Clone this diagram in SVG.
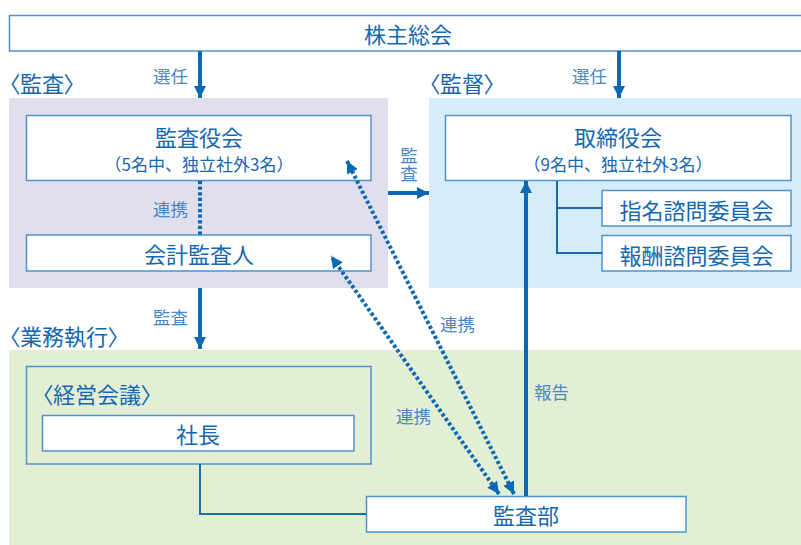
<svg xmlns="http://www.w3.org/2000/svg" width="801" height="545" viewBox="0 0 801 545">
<style>
text{font-family:"Noto Sans CJK JP","Noto Sans",sans-serif;}
.t{fill:#1467b0;font-size:22px;text-anchor:middle;dominant-baseline:central;font-feature-settings:"palt";}
.s{fill:#1467b0;font-size:17px;text-anchor:middle;dominant-baseline:central;}
.h{fill:#1467b0;font-size:22px;dominant-baseline:central;font-feature-settings:"palt";}
.l{fill:#4a86c4;font-size:17.5px;dominant-baseline:central;font-feature-settings:"palt";}
.box{fill:#fff;stroke:#4d93cf;stroke-width:1.5;}
.ln{fill:none;stroke:#1a6aae;stroke-width:2;}
.ar{fill:none;stroke:#0a68b4;stroke-width:4;}
.dt{fill:none;stroke:#0a68b4;stroke-width:4;stroke-dasharray:3.2 2.4;}
</style>
<defs>
<marker id="ah" viewBox="0 0 10 10" refX="10" refY="5" markerUnits="userSpaceOnUse" markerWidth="12" markerHeight="12" orient="auto-start-reverse">
<path d="M0,0 L10,5 L0,10 z" fill="#0a68b4"/>
</marker>
</defs>
<g id="panels">
<rect x="9" y="98" width="379" height="190" fill="#e0dfee"/>
<rect x="429" y="98" width="372" height="190" fill="#d6ecf8"/>
<rect x="9" y="350" width="792" height="195" fill="#e2efd5"/>
</g>
<g id="headings">
<text class="h" x="9" y="82">〈監査〉</text>
<text class="h" x="429" y="82">〈監督〉</text>
<text class="h" x="9" y="335">〈業務執行〉</text>
</g>
<g id="labels">
<text class="l" x="153" y="75">選任</text>
<text class="l" x="572" y="75">選任</text>
<text class="l" x="153" y="208">連携</text>
<text class="l" x="153" y="316">監査</text>
<text x="409" y="147" style="writing-mode:vertical-rl;font-size:17.5px;fill:#4a86c4;">監査</text>
<text class="l" x="440" y="323">連携</text>
<text class="l" x="396" y="415">連携</text>
<text class="l" x="534" y="391">報告</text>
</g>
<g id="n-shareholders">
<rect class="box" x="9.5" y="15.5" width="800" height="35.5"/>
<text class="t" x="408" y="33">株主総会</text>
</g>
<g id="n-kansayakukai">
<rect class="box" x="26.5" y="115.5" width="344.5" height="65"/>
<text class="t" x="199" y="136">監査役会</text>
<text class="s" x="199" y="163">（5名中、独立社外3名）</text>
</g>
<g id="n-kaikei">
<rect class="box" x="26.5" y="235" width="344.5" height="36"/>
<text class="t" x="199" y="253">会計監査人</text>
</g>
<g id="n-torishimariyakukai">
<rect class="box" x="445.5" y="115.5" width="345.5" height="65"/>
<text class="t" x="618" y="136">取締役会</text>
<text class="s" x="618" y="163">（9名中、独立社外3名）</text>
</g>
<g id="n-shimei">
<rect class="box" x="602" y="190.5" width="189" height="35.5"/>
<text class="t" x="696.5" y="209">指名諮問委員会</text>
</g>
<g id="n-houshu">
<rect class="box" x="602" y="235.5" width="189" height="35.5"/>
<text class="t" x="696.5" y="254">報酬諮問委員会</text>
</g>
<g id="n-keiei">
<rect x="26.5" y="366.5" width="344.5" height="97.5" fill="none" stroke="#4d93cf" stroke-width="1.5"/>
<text class="h" x="42" y="393">〈経営会議〉</text>
</g>
<g id="n-shacho">
<rect class="box" x="42.5" y="415.5" width="311.5" height="35.5"/>
<text class="t" x="198" y="433">社長</text>
</g>
<g id="n-kansabu">
<rect class="box" x="366.5" y="496.5" width="319.5" height="35.5"/>
<text class="t" x="526" y="514">監査部</text>
</g>
<g id="connectors">
<line class="ar" x1="200" y1="51" x2="200" y2="98" marker-end="url(#ah)"/>
<line class="ar" x1="619" y1="51" x2="619" y2="98" marker-end="url(#ah)"/>
<line class="ar" x1="200" y1="288" x2="200" y2="349" marker-end="url(#ah)"/>
<line class="ar" x1="388" y1="193" x2="429" y2="193" marker-end="url(#ah)"/>
<line class="ar" x1="526" y1="496" x2="526" y2="181" marker-end="url(#ah)"/>
<line class="dt" x1="200" y1="181" x2="200" y2="235"/>
<line class="dt" x1="514" y1="494" x2="347" y2="161" marker-start="url(#ah)" marker-end="url(#ah)"/>
<line class="dt" x1="499" y1="494" x2="331" y2="256" marker-start="url(#ah)" marker-end="url(#ah)"/>
<path class="ln" d="M557,181 V253 H602 M557,208 H602"/>
<path class="ln" d="M200,464 V514 H366"/>
</g>
</svg>
